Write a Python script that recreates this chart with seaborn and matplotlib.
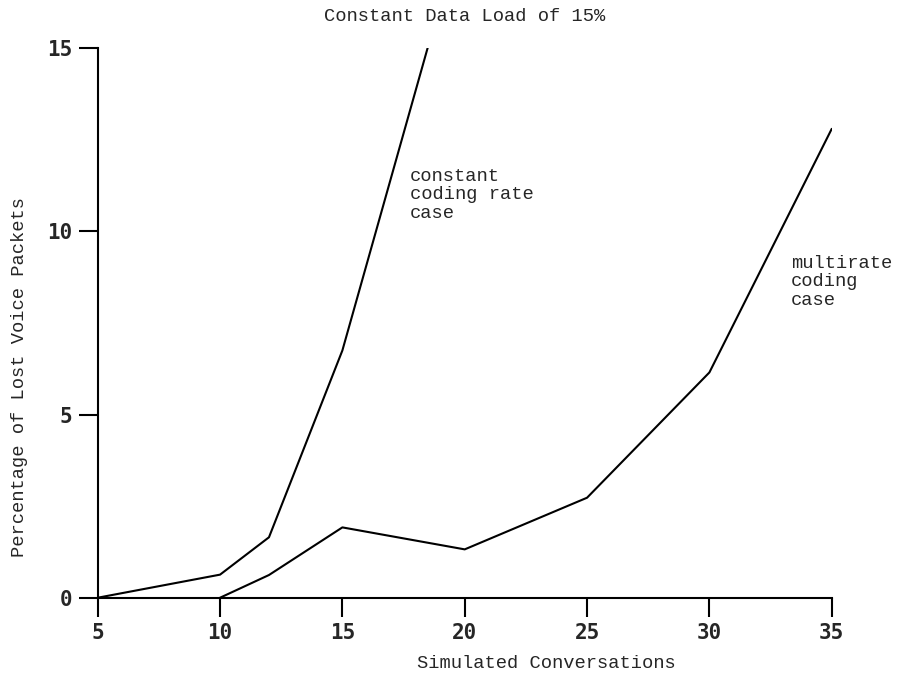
import matplotlib
matplotlib.use("Agg")
import matplotlib.pyplot as plt
import seaborn as sns
import pandas as pd

# ---- data ----
const_x = [5, 10, 12, 15, 20]
const_y = [0.0, 0.63, 1.65, 6.75, 18.6]   # continues past the top of the axis (clipped at 15)
multi_x = [10, 12, 15, 20, 25, 30, 35]
multi_y = [0.0, 0.62, 1.92, 1.32, 2.73, 6.15, 12.8]

x_ticks = [5, 10, 15, 20, 25, 30, 35]
y_ticks = [0, 5, 10, 15]

title = "Constant Data Load of 15%"
x_label = "Simulated Conversations"
y_label = "Percentage of Lost Voice Packets"
const_label = "constant\ncoding rate\ncase"
multi_label = "multirate\ncoding\ncase"

sns.set_style("ticks")
text_font = ["Liberation Mono", "DejaVu Sans Mono"]
tick_font = ["DejaVu Sans Mono"]
plt.rcParams["font.family"] = text_font

fig = plt.figure(figsize=(8.98, 6.77), dpi=100)
ax = fig.add_axes([0.1088, 0.1171, 0.8174, 0.8116])

df_c = pd.DataFrame({"x": const_x, "y": const_y})
df_m = pd.DataFrame({"x": multi_x, "y": multi_y})
sns.lineplot(data=df_c, x="x", y="y", ax=ax, color="black", linewidth=1.5, estimator=None)
sns.lineplot(data=df_m, x="x", y="y", ax=ax, color="black", linewidth=1.5, estimator=None)

ax.set_xlim(5, 35)
ax.set_ylim(0, 15)
ax.set_xticks(x_ticks)
ax.set_yticks(y_ticks)
ax.set_xticklabels([str(v) for v in x_ticks], family=tick_font, fontsize=15, fontweight="bold")
ax.set_yticklabels([str(v) for v in y_ticks], family=tick_font, fontsize=15, fontweight="bold")
ax.tick_params(axis="both", direction="out", length=14, width=1.5, color="black", pad=4.5)

for s in ["top", "right"]:
    ax.spines[s].set_visible(False)
for s in ["left", "bottom"]:
    ax.spines[s].set_linewidth(1.5)
    ax.spines[s].set_color("black")

ax.set_xlabel(x_label, fontsize=13.5)
ax.xaxis.label.set_va("center")
ax.xaxis.set_label_coords(0.611, -0.119)
ax.set_ylabel(y_label, fontsize=13.5)
ax.yaxis.label.set_va("center")
ax.yaxis.set_label_coords(-0.107, 0.402)

ax.set_title(title, fontsize=13.5, y=1.057, va="center", pad=0)

ax.text(17.76, 11.74, const_label, fontsize=13.5, va="top", ha="left", linespacing=1.12)
ax.text(33.33, 9.36, multi_label, fontsize=13.5, va="top", ha="left", linespacing=1.12)

ax.grid(False)
fig.savefig("out.png", dpi=100)
